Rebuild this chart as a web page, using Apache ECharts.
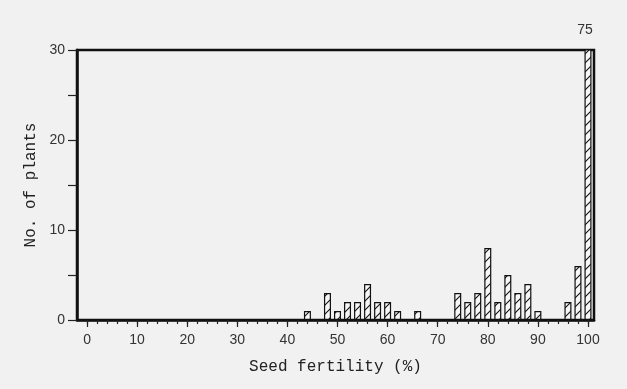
<!DOCTYPE html>
<html>
<head>
<meta charset="utf-8">
<script src="https://cdn.jsdelivr.net/npm/echarts@6/dist/echarts.min.js"></script>
<style>
html,body{margin:0;padding:0;background:#f1f1f1;}
#chart{width:627px;height:389px;}
</style>
</head>
<body>
<div id="chart"></div>
<script>
// Data
const binCenters = [44, 48, 50, 52, 54, 56, 58, 60, 62, 66, 74, 76, 78, 80, 82, 84, 86, 88, 90, 96, 98, 100];
const plantCounts = [1, 3, 1, 2, 2, 4, 2, 2, 1, 1, 3, 2, 3, 8, 2, 5, 3, 4, 1, 2, 6, 75];
const xMajorTicks = [0, 10, 20, 30, 40, 50, 60, 70, 80, 90, 100];
const xMinorTicks = [0, 2, 4, 6, 8, 10, 12, 14, 16, 18, 20, 22, 24, 26, 28, 30, 32, 34, 36, 38, 40, 42, 44, 46, 48, 50, 52, 54, 56, 58, 60, 62, 64, 66, 68, 70, 72, 74, 76, 78, 80, 82, 84, 86, 88, 90, 92, 94, 96, 98, 100];
const yTicks = [0, 5, 10, 15, 20, 25, 30];
const yLabels = [0, 10, 20, 30];
const yMax = 30;

// hatch pattern "/"
function makeHatch() {
  const c = document.createElement('canvas');
  const s = 9;
  c.width = s; c.height = s;
  const g = c.getContext('2d');
  g.fillStyle = '#f7f7f7';
  g.fillRect(0, 0, s, s);
  g.strokeStyle = '#111';
  g.lineWidth = 1.1;
  g.beginPath();
  g.moveTo(-1, s + 1); g.lineTo(s + 1, -1);
  g.moveTo(-1, 1); g.lineTo(1, -1);
  g.moveTo(s - 1, s + 1); g.lineTo(s + 1, s - 1);
  g.stroke();
  return c;
}

const chart = echarts.init(document.getElementById('chart'), null, {renderer: 'canvas'});
const numFont = {fontFamily: 'Liberation Sans', fontSize: 14, color: '#333'};

chart.setOption({
  backgroundColor: '#f1f1f1',
  animation: false,
  grid: {left: 77, right: 33, top: 50, bottom: 69, show: true, borderColor: '#111', borderWidth: 2.5, backgroundColor: 'transparent'},
  xAxis: [{
    type: 'value', min: -2, max: 101.2,
    axisLine: {show: true, onZero: false, lineStyle: {color: '#111', width: 2.5}},
    axisTick: {show: true, customValues: xMinorTicks, length: 4, lineStyle: {color: '#222', width: 1.2}},
    axisLabel: Object.assign({customValues: xMajorTicks, margin: 13}, numFont),
    splitLine: {show: false},
    name: 'Seed fertility (%)', nameLocation: 'middle', nameGap: 39,
    nameTextStyle: {fontFamily: 'Liberation Mono', fontSize: 16, color: '#222'}
  }, {
    type: 'value', min: -2, max: 101.2, position: 'bottom',
    axisLine: {show: false, onZero: false},
    axisTick: {show: true, customValues: xMajorTicks, length: 7, lineStyle: {color: '#222', width: 1.2}},
    axisLabel: {show: false},
    splitLine: {show: false}
  }],
  yAxis: {
    type: 'value', min: 0, max: yMax,
    axisLine: {show: true, onZero: false, lineStyle: {color: '#111', width: 2.5}},
    axisTick: {show: true, customValues: yTicks, length: 9, lineStyle: {color: '#222', width: 1.2}},
    axisLabel: Object.assign({customValues: yLabels, margin: 12}, numFont),
    splitLine: {show: false},
    name: 'No. of plants', nameLocation: 'middle', nameGap: 36,
    nameTextStyle: {fontFamily: 'Liberation Mono', fontSize: 16, color: '#222'}
  },
  series: [{
    type: 'bar',
    xAxisIndex: 0,
    clip: true,
    barWidth: 7,
    data: binCenters.map((x, i) => [x, plantCounts[i]]),
    itemStyle: {color: {image: makeHatch(), repeat: 'repeat'}, borderColor: '#111', borderWidth: 1.2},
    markPoint: {
      symbol: 'circle', symbolSize: 1,
      itemStyle: {color: 'transparent', borderWidth: 0},
      label: Object.assign({show: true, position: 'top', distance: 12, offset: [-3, 0], formatter: '{c}'}, numFont),
      data: [{coord: [binCenters[binCenters.length - 1], yMax], value: plantCounts[plantCounts.length - 1]}]
    }
  }]
});
</script>
</body>
</html>
